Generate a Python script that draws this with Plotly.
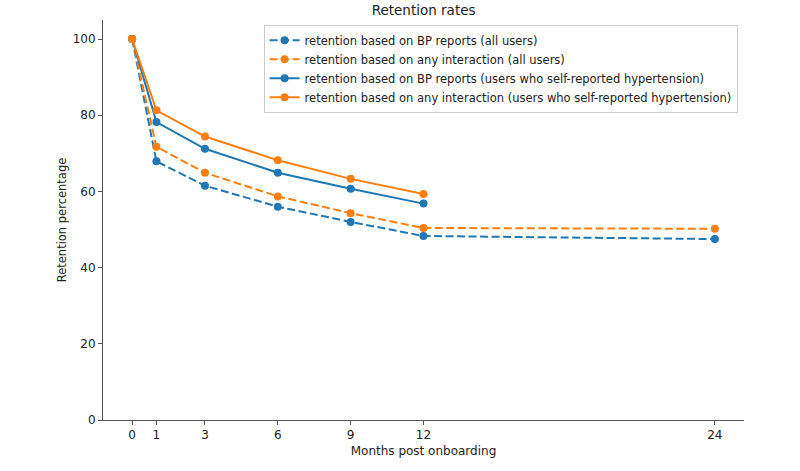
import plotly.graph_objects as go

months_all = [0, 1, 3, 6, 9, 12, 24]
months_htn = [0, 1, 3, 6, 9, 12]

bp_all = [100, 67.9, 61.5, 56.0, 52.0, 48.3, 47.5]
any_all = [100, 71.7, 64.9, 58.7, 54.3, 50.4, 50.2]
bp_htn = [100, 78.2, 71.2, 64.9, 60.7, 56.8]
any_htn = [100, 81.3, 74.4, 68.2, 63.3, 59.3]

x_ticks = [0, 1, 3, 6, 9, 12, 24]
y_ticks = [0, 20, 40, 60, 80, 100]

BLUE = "#1f77b4"
ORANGE = "#ff7f0e"
DASH = "8px,3.5px"

series = [
    ("retention based on BP reports (all users)", months_all, bp_all, BLUE, DASH),
    ("retention based on any interaction (all users)", months_all, any_all, ORANGE, DASH),
    ("retention based on BP reports (users who self-reported hypertension)", months_htn, bp_htn, BLUE, "solid"),
    ("retention based on any interaction (users who self-reported hypertension)", months_htn, any_htn, ORANGE, "solid"),
]

fig = go.Figure()
for name, xs, ys, color, dash in series:
    fig.add_trace(go.Scatter(
        x=xs, y=ys, name=name, mode="lines+markers",
        line=dict(color=color, width=2, dash=dash),
        marker=dict(color=color, size=8),
    ))

axis_common = dict(
    showgrid=False, zeroline=False, showline=True, linecolor="#555555", linewidth=1,
    ticks="outside", ticklen=4, tickcolor="#555555", tickwidth=1,
    tickfont=dict(size=12, color="#222222"),
)

fig.update_layout(
    width=800, height=471,
    margin=dict(l=103, r=56, t=20, b=51),
    paper_bgcolor="white", plot_bgcolor="white",
    font=dict(family="DejaVu Sans", size=12, color="#222222"),
    title=dict(text="Retention rates", x=0.5295, xanchor="center", y=0.978, yanchor="middle",
               font=dict(size=13.5, color="#222222")),
    xaxis=dict(range=[-1.2, 25.2], tickmode="array", tickvals=x_ticks,
               title=dict(text="Months post onboarding", standoff=5, font=dict(size=12)),
               **axis_common),
    yaxis=dict(range=[0, 105], tickmode="array", tickvals=y_ticks,
               title=dict(text="Retention percentage", standoff=3, font=dict(size=11.5)),
               **axis_common),
    legend=dict(x=0.99, xanchor="right", y=0.988, yanchor="top",
                bgcolor="rgba(255,255,255,0.8)", bordercolor="#cccccc", borderwidth=1,
                font=dict(size=11.5, color="#222222"), tracegroupgap=0, itemwidth=30),
    showlegend=True,
)

fig.write_html("out.html")
